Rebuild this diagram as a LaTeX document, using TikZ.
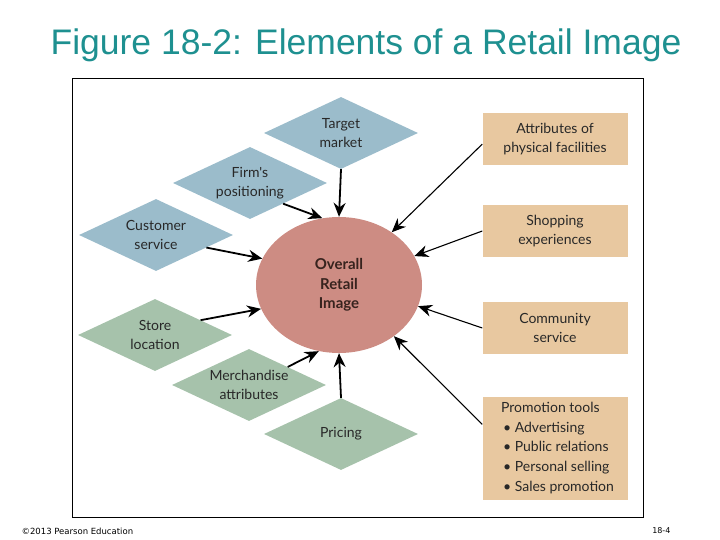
\documentclass[tikz,border=0pt]{standalone}
\usepackage{fontspec}
\setmainfont{Liberation Sans}
\newfontfamily\gillfont{Lato}
\newfontfamily\footfont{DejaVu Sans}
\usetikzlibrary{shapes.geometric,arrows.meta}
\definecolor{titleteal}{RGB}{30,144,144}
\definecolor{diablue}{RGB}{155,188,203}
\definecolor{diagreen}{RGB}{166,194,171}
\definecolor{imgred}{RGB}{205,140,131}
\definecolor{boxtan}{RGB}{232,200,160}
\definecolor{textgray}{RGB}{40,40,40}
\begin{document}
\begin{tikzpicture}[x=1pt,y=-1pt,
		elem/.style={diamond, aspect=2.1, inner sep=0pt, minimum width=154pt, minimum height=72pt,
			align=center, text=textgray, font=\gillfont\fontsize{14}{19}\selectfont},
		facet/.style={rectangle, inner sep=0pt, minimum width=145pt, minimum height=52pt, fill=boxtan,
			align=center, text=textgray, font=\gillfont\fontsize{14}{19}\selectfont},
		bigarrow/.style={line width=1.8pt, -{Stealth[length=14pt,width=12pt]}},
		thinarrow/.style={line width=1.1pt, -{Stealth[length=14pt,width=12pt]}}]
				\useasboundingbox (0,0) rectangle (720,540);
				% title and frame
				\node[text=titleteal, font=\fontsize{35.5}{40}\selectfont] (title) at (366,45) {Figure 18-2: Elements of a Retail Image};
				\draw[line width=1pt] (72,79) rectangle (643,517);
				
				% centre
				\node[ellipse, fill=imgred, minimum width=166pt, minimum height=136pt, align=center,
					text={rgb,255:red,55;green,35;blue,30}, font=\gillfont\bfseries\fontsize{15}{19.5}\selectfont]
					(img) at (339,285) {Overall\\Retail\\Image};
				
				% blue diamonds
				\node[elem, fill=diablue] (tgt) at (341,133) {Target\\market};
				\node[elem, fill=diablue] (firm) at (250,183) {Firm's\\positioning};
				\node[elem, fill=diablue] (cust) at (156,235) {Customer\\service};
				
				% green diamonds
				\node[elem, fill=diagreen] (store) at (155,335) {Store\\location};
				\node[elem, fill=diagreen] (merch) at (249,385) {Merchandise\\attributes};
				\node[elem, fill=diagreen] (price) at (341,434) {Pricing};
				
				% tan boxes
				\node[facet] (phys) at (555,139) {Attributes of\\physical facilities};
				\node[facet] (shop) at (555,231) {Shopping\\experiences};
				\node[facet] (comm) at (555,328) {Community\\service};
				\node[facet, minimum height=103pt, align=left, font=\gillfont\fontsize{14}{19.7}\selectfont] (promo) at (555,448)
					{\hspace*{5pt}Promotion tools\\
					\hspace*{7pt}\textbullet\ Advertising\\
					\hspace*{7pt}\textbullet\ Public relations\\
					\hspace*{7pt}\textbullet\ Personal selling\\
					\hspace*{7pt}\textbullet\ Sales promotion};
				
				% arrows
				\draw[bigarrow] (tgt.south) -- (img.90);
				\draw[bigarrow] (price.north) -- (img.270);
				\foreach \from/\to in {firm.-32/img.104, cust.-14/img.161, store.18/img.197, merch.25/img.253}
					\draw[bigarrow] (\from) -- (\to);
				\foreach \from/\to in {phys.184/img.45, shop.west/img.21, comm.west/img.345, promo.162/img.317}
					\draw[thinarrow] (\from) -- (\to);
				
				% footer
				\node[anchor=west, font=\footfont\fontsize{8.5}{9}\selectfont] (copy) at (18,531) {\textcopyright 2013 Pearson Education};
				\node[anchor=east, font=\footfont\fontsize{8}{9}\selectfont] (page) at (674,531) {18-4};
\end{tikzpicture}
\end{document}
